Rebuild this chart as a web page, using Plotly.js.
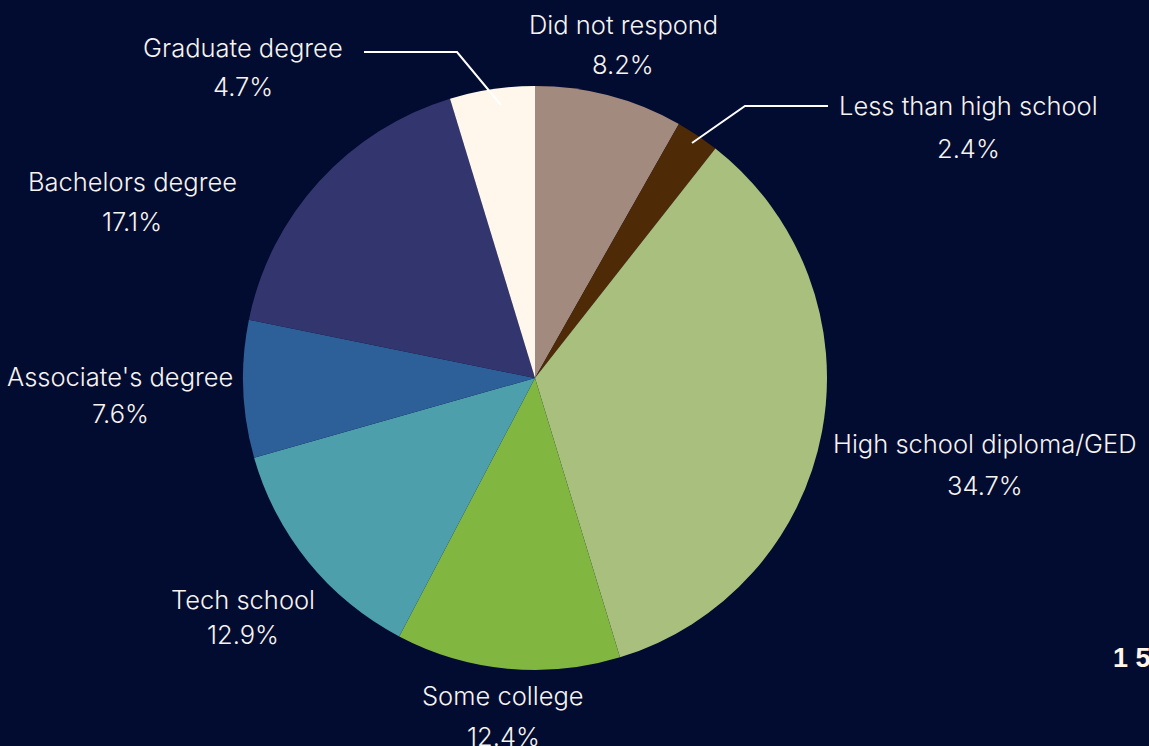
<!DOCTYPE html>
<html>
<head>
<meta charset="utf-8">
<script src="https://cdn.plot.ly/plotly-3.0.1.min.js"></script>
<style>
html,body{margin:0;padding:0;background:#020b30;}
#chart{width:1149px;height:746px;}
</style>
</head>
<body>
<div id="chart"></div>
<script>
// ---- data ----
const categories = ["Did not respond", "Less than high school", "High school diploma/GED", "Some college", "Tech school", "Associate's degree", "Bachelors degree", "Graduate degree"];
const shares = [8.2, 2.4, 34.7, 12.4, 12.9, 7.6, 17.1, 4.7];
const sliceColors = ["#a38a7e", "#4e2a07", "#a9bf7d", "#81b641", "#4da0ab", "#2d5f98", "#33366e", "#fff7ec"];
const pageNumber = "1 5";

// ---- label layout (pixel centres of name / value lines) ----
const labelPos = [
  {x: 623, y1: 24, y2: 64},
  {x: 968, y1: 106, y2: 148},
  {x: 985, y1: 444, y2: 485},
  {x: 503, y1: 695, y2: 736},
  {x: 243, y1: 599, y2: 634},
  {x: 120, y1: 376, y2: 413},
  {x: 132, y1: 181, y2: 222},
  {x: 243, y1: 47, y2: 87}
];

const W = 1149, H = 746;
const px = x => x / W;
const py = y => 1 - y / H;

const font = {family: "Inter, 'Liberation Sans', sans-serif", size: 25.5, color: "#f6f4f0", weight: 300};

const annotations = [];
categories.forEach((c, i) => {
  const p = labelPos[i];
  annotations.push({xref: "paper", yref: "paper", x: px(p.x), y: py(p.y1), xanchor: "center", yanchor: "middle",
    text: c, showarrow: false, font: font});
  annotations.push({xref: "paper", yref: "paper", x: px(p.x), y: py(p.y2), xanchor: "center", yanchor: "middle",
    text: shares[i].toFixed(1) + "%", showarrow: false, font: font});
});
annotations.push({xref: "paper", yref: "paper", x: px(1111), y: py(658), xanchor: "left", yanchor: "middle",
  text: "<b>" + pageNumber + "</b>", showarrow: false,
  font: {family: "'Liberation Sans', Arial, sans-serif", size: 27, color: "#fff5e8"}});

const lineStyle = {color: "#ffffff", width: 2};
const shapes = [
  {type: "path", xref: "paper", yref: "paper",
   path: `M ${px(364)} ${py(52)} L ${px(457)} ${py(52)} L ${px(501)} ${py(105)}`, line: lineStyle},
  {type: "path", xref: "paper", yref: "paper",
   path: `M ${px(828)} ${py(106)} L ${px(745)} ${py(106)} L ${px(692)} ${py(143)}`, line: lineStyle}
];

const trace = {
  type: "pie",
  labels: categories,
  values: shares,
  sort: false,
  direction: "clockwise",
  rotation: 0,
  marker: {colors: sliceColors, line: {width: 0}},
  textinfo: "none",
  hoverinfo: "label+percent",
  showlegend: false,
  domain: {x: [243 / W, 827 / W], y: [1 - 670 / H, 1 - 86 / H]}
};

const layout = {
  width: W, height: H,
  margin: {l: 0, r: 0, t: 0, b: 0},
  paper_bgcolor: "#020b30",
  plot_bgcolor: "#020b30",
  showlegend: false,
  annotations: annotations,
  shapes: shapes
};

Plotly.newPlot("chart", [trace], layout, {displayModeBar: false, staticPlot: true});
</script>
</body>
</html>
